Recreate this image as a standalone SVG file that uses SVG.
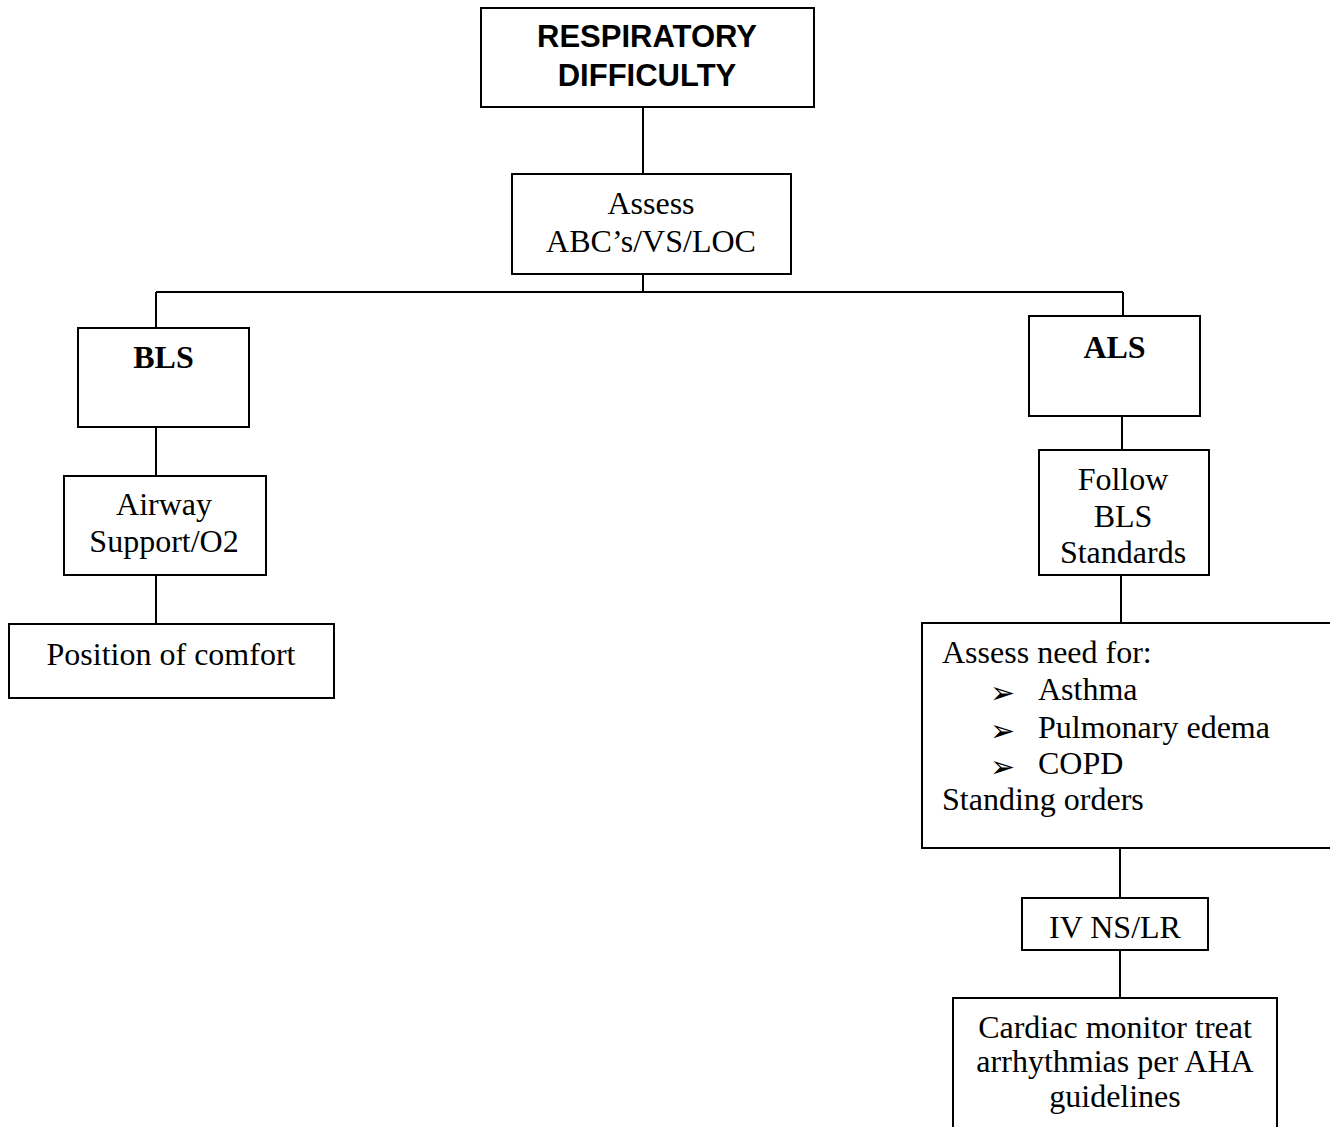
<svg xmlns="http://www.w3.org/2000/svg" width="1330" height="1127" viewBox="0 0 1330 1127">
<style>
.box{fill:#fff;stroke:#000;stroke-width:2}
.ln{fill:none;stroke:#000;stroke-width:2}
.t{font-family:"Liberation Serif","Times New Roman",serif;font-size:32px;fill:#000}
.c{text-anchor:middle}
.b{font-weight:bold}
.h{font-family:"Liberation Sans",Arial,sans-serif;font-size:31px;font-weight:bold;fill:#000;text-anchor:middle}
.bul{font-family:"DejaVu Sans",sans-serif;font-size:30px;fill:#000}
</style>
<rect width="1330" height="1127" fill="#fff"/>
<g id="connectors">
<path class="ln" d="M643,107 V174"/>
<path class="ln" d="M643,274 V292 M156,292 H1123 M156,292 V328 M1123,292 V316"/>
<path class="ln" d="M156,427 V476"/>
<path class="ln" d="M156,575 V624"/>
<path class="ln" d="M1122,416 V450"/>
<path class="ln" d="M1121,575 V623"/>
<path class="ln" d="M1120,848 V898"/>
<path class="ln" d="M1120,950 V998"/>
</g>
<g id="respiratory">
<rect class="box" x="481" y="8" width="333" height="99"/>
<text class="h" x="647" y="47">RESPIRATORY</text>
<text class="h" x="647" y="86">DIFFICULTY</text>
</g>
<g id="assess">
<rect class="box" x="512" y="174" width="279" height="100"/>
<text class="t c" x="651" y="214">Assess</text>
<text class="t c" x="651" y="252">ABC’s/VS/LOC</text>
</g>
<g id="bls">
<rect class="box" x="78" y="328" width="171" height="99"/>
<text class="t c b" x="163.5" y="368">BLS</text>
</g>
<g id="airway">
<rect class="box" x="64" y="476" width="202" height="99"/>
<text class="t c" x="164" y="515">Airway</text>
<text class="t c" x="164" y="552">Support/O2</text>
</g>
<g id="position">
<rect class="box" x="9" y="624" width="325" height="74"/>
<text class="t c" x="171" y="665">Position of comfort</text>
</g>
<g id="als">
<rect class="box" x="1029" y="316" width="171" height="100"/>
<text class="t c b" x="1114.5" y="358">ALS</text>
</g>
<g id="follow">
<rect class="box" x="1039" y="450" width="170" height="125"/>
<text class="t c" x="1123" y="490">Follow</text>
<text class="t c" x="1123" y="527">BLS</text>
<text class="t c" x="1123" y="563">Standards</text>
</g>
<g id="assess-need">
<rect class="box" x="922" y="623" width="420" height="225"/>
<text class="t" x="942" y="663">Assess need for:</text>
<text class="bul" x="990" y="703">➢</text>
<text class="t" x="1038" y="700">Asthma</text>
<text class="bul" x="990" y="741">➢</text>
<text class="t" x="1038" y="738">Pulmonary edema</text>
<text class="bul" x="990" y="777">➢</text>
<text class="t" x="1038" y="774">COPD</text>
<text class="t" x="942" y="810">Standing orders</text>
</g>
<g id="iv">
<rect class="box" x="1022" y="898" width="186" height="52"/>
<text class="t c" x="1115" y="938">IV NS/LR</text>
</g>
<g id="cardiac">
<rect class="box" x="953" y="998" width="324" height="150"/>
<text class="t c" x="1115" y="1038">Cardiac monitor treat</text>
<text class="t c" x="1115" y="1072">arrhythmias per AHA</text>
<text class="t c" x="1115" y="1107">guidelines</text>
</g>
</svg>
